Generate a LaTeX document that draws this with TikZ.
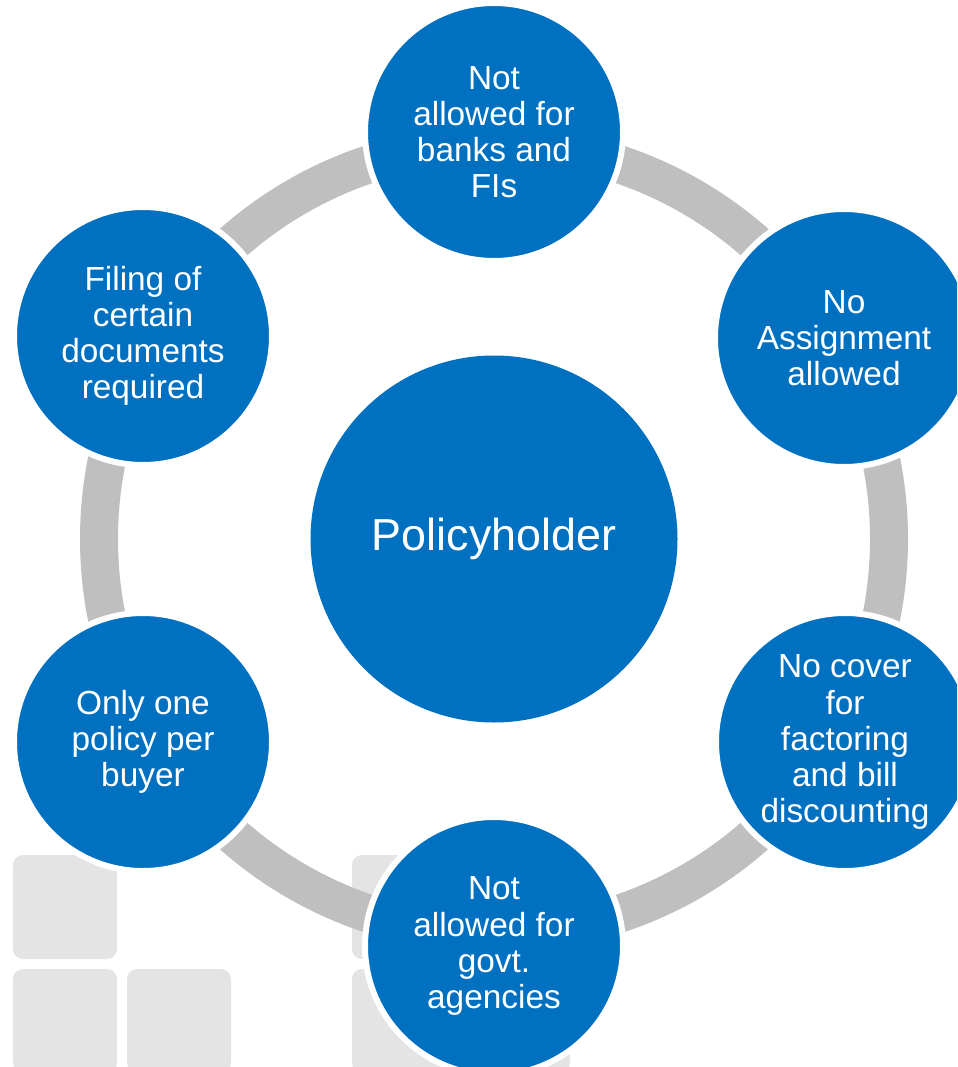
\documentclass[tikz,border=0pt]{standalone}
\usepackage{fontspec}
\setmainfont{Liberation Sans}
\usepackage{tikz}
\usetikzlibrary{positioning}
\definecolor{PolBlue}{HTML}{0070C0}
\definecolor{RingGray}{HTML}{BFBFBF}
\definecolor{TileGray}{HTML}{E4E4E4}

\begin{document}
\begin{tikzpicture}[
    bubble/.style={circle, fill=PolBlue, draw=white, line width=0.12cm, minimum size=5.16cm,
      inner sep=0pt, align=center, text=white, font=\fontsize{19pt}{20.5pt}\selectfont},
    hub/.style={bubble, draw=none, minimum size=7.34cm, font=\fontsize{25.5pt}{30pt}\selectfont},
    tile/.style={fill=TileGray, rounded corners=0.2cm},
    ring/.style={draw=RingGray, line width=0.76cm}]

          \useasboundingbox (0,0) rectangle (19.14,-21.34);
          \clip (0,0) rectangle (19.14,-21.34);
        %Background tiles
          \fill [tile] (0.26,-17.10) rectangle (2.34,-19.18);
          \fill [tile] (0.26,-19.38) rectangle (2.34,-21.46);
          \fill [tile] (2.54,-19.38) rectangle (4.62,-21.46);
          \fill [tile] (7.04,-17.10) rectangle (9.12,-19.18);
          \fill [tile] (7.04,-19.38) rectangle (9.12,-21.46);
          \fill [tile] (9.32,-19.38) rectangle (11.40,-21.46);

        %Ring
          \coordinate (mid) at (9.88,-10.78);
          \draw [ring] (mid) circle (7.9cm);

        %Centre
          \node [hub] (holder) at (mid) {Policyholder};

        %Outer circles
          \node [bubble] (banks) at (9.88,-2.64) {Not\\allowed for\\banks and\\FIs};
          \node [bubble] (assign) at (16.88,-6.76) {No\\Assignment\\allowed};
          \node [bubble] (factor) at (16.90,-14.84) {No cover\\for\\factoring\\and bill\\discounting};
          \node [bubble] (govt) at (9.88,-18.92) {Not\\allowed for\\govt.\\agencies};
          \node [bubble] (buyer) at (2.86,-14.84) {Only one\\policy per\\buyer};
          \node [bubble] (filing) at (2.86,-6.72) {Filing of\\certain\\documents\\required};
        \end{tikzpicture}
\end{document}
